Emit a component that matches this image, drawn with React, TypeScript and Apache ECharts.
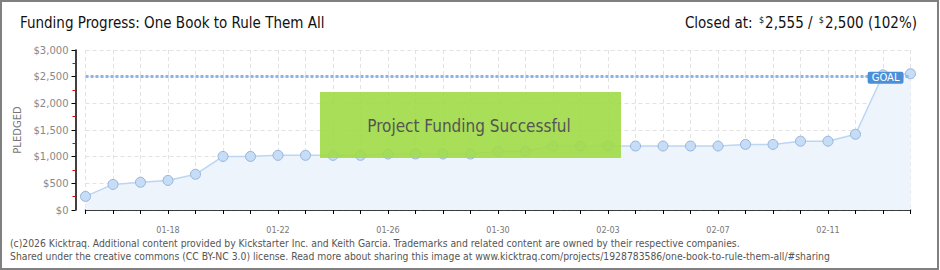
import React, { useEffect, useRef } from "react";
import * as echarts from "echarts";

const dates = [
  "01-15", "01-16", "01-17", "01-18", "01-19", "01-20", "01-21", "01-22",
  "01-23", "01-24", "01-25", "01-26", "01-27", "01-28", "01-29", "01-30",
  "01-31", "02-01", "02-02", "02-03", "02-04", "02-05", "02-06", "02-07",
  "02-08", "02-09", "02-10", "02-11", "02-12", "02-13", "02-14",
];
const pledged = [
  255, 480, 520, 555, 670, 1005, 1005, 1025, 1025, 1025, 1025, 1050, 1050,
  1050, 1050, 1100, 1100, 1200, 1200, 1200, 1200, 1200, 1200, 1200, 1230,
  1230, 1290, 1290, 1420, 2535, 2555,
];
const goal = 2500;
const yTicks = { min: 0, max: 3000, interval: 500 };
const titleText = "Funding Progress: One Book to Rule Them All";
const closedText = { pledged: "2,555", goal: "2,500", pct: "102%" };
const footerLines = [
  "(c)2026 Kicktraq. Additional content provided by Kickstarter Inc. and Keith Garcia. Trademarks and related content are owned by their respective companies.",
  "Shared under the creative commons (CC BY-NC 3.0) license. Read more about sharing this image at www.kicktraq.com/projects/1928783586/one-book-to-rule-them-all/#sharing",
];
const bannerText = "Project Funding Successful";

const COND = "'DejaVu Sans Condensed', 'DejaVu Sans', sans-serif";
const SANS = "'DejaVu Sans', sans-serif";

export default function App() {
  const ref = useRef<HTMLDivElement>(null);
  useEffect(() => {
    if (!ref.current) return;
    const chart = echarts.init(ref.current, undefined, { renderer: "svg" });
    chart.setOption({
      animation: false,
      backgroundColor: "#ffffff",
      grid: { left: 85.5, right: 29.5, top: 50, bottom: 60 },
      xAxis: {
        type: "category",
        data: dates,
        boundaryGap: false,
        offset: 10,
        axisLine: { show: true, lineStyle: { color: "#000", width: 1.5 } },
        axisTick: { show: true, interval: 0, length: 4, lineStyle: { color: "#000" } },
        axisLabel: {
          interval: (i: number) => i >= 3 && (i - 3) % 4 === 0,
          color: "#777",
          fontSize: 9,
          fontFamily: COND,
          margin: 5,
        },
        splitLine: {
          show: true,
          interval: 0,
          lineStyle: { color: "#e2e2e2", type: [4, 3] },
        },
      },
      yAxis: {
        type: "value",
        min: yTicks.min,
        max: yTicks.max,
        interval: yTicks.interval,
        offset: 10,
        name: "PLEDGED",
        nameLocation: "middle",
        nameRotate: 90,
        nameGap: 48,
        nameTextStyle: { color: "#777", fontSize: 10, fontFamily: SANS },
        axisLine: { show: true, lineStyle: { color: "#000", width: 1.5 } },
        axisTick: { show: true, length: 4, lineStyle: { color: "#000" } },
        minorTick: { show: true, splitNumber: 2, length: 3, lineStyle: { color: "#e00000" } },
        minorSplitLine: { show: false },
        axisLabel: {
          color: "#888",
          fontSize: 10,
          fontFamily: SANS,
          margin: 7,
          formatter: (v: number) => "$" + v.toLocaleString("en-US"),
        },
        splitLine: { show: true, lineStyle: { color: "#e2e2e2", type: [4, 3] } },
      },
      series: [
        {
          type: "line",
          data: pledged,
          symbol: "circle",
          symbolSize: 10,
          itemStyle: { color: "#c6ddf7", borderColor: "#98b4d9", borderWidth: 1 },
          lineStyle: { color: "#bad6f3", width: 1.5 },
          areaStyle: { color: "#edf4fc", opacity: 1 },
          markLine: {
            silent: true,
            symbol: "none",
            data: [{ yAxis: goal, name: "GOAL" }],
            lineStyle: { color: "#8cb6e6", type: [3, 2], width: 3 },
            label: {
              show: true,
              formatter: "GOAL",
              position: "insideEndTop",
              distance: 0,
              offset: [-7, 7],
              backgroundColor: "#4a8fd8",
              color: "#fff",
              fontSize: 10,
              fontFamily: SANS,
              padding: [1, 4, 1, 4],
              borderRadius: 2,
            },
          },
        },
      ],
      graphic: [
        {
          type: "rect",
          shape: { x: 1, y: 1, width: 937, height: 268 },
          style: { fill: "none", stroke: "#808080", lineWidth: 2 },
          z: 100,
        },
        {
          type: "text",
          x: 20,
          y: 23,
          style: {
            text: titleText,
            fontSize: 15,
            fontFamily: COND,
            fill: "#111",
            verticalAlign: "middle",
          },
        },
        {
          type: "text",
          x: 917,
          y: 23,
          style: {
            text: `{a|Closed at: }{s|$}{a|${closedText.pledged} / }{s|$}{a|${closedText.goal} (${closedText.pct})}`,
            align: "right",
            verticalAlign: "middle",
            rich: {
              a: { fontSize: 15, fontFamily: COND, fill: "#111" },
              s: { fontSize: 9, fontFamily: COND, fill: "#111", verticalAlign: "top", padding: [0, 1, 6, 2] },
            },
          },
        },
        {
          type: "rect",
          shape: { x: 320, y: 92, width: 301, height: 66 },
          style: { fill: "rgba(160,218,70,0.9)" },
          z: 50,
        },
        {
          type: "text",
          x: 469,
          y: 126,
          z: 51,
          style: {
            text: bannerText,
            fontSize: 17,
            fontFamily: COND,
            fill: "#555",
            align: "center",
            verticalAlign: "middle",
            textShadowColor: "#fff",
            textShadowOffsetX: 1,
            textShadowOffsetY: 1,
            textShadowBlur: 0,
          },
        },
        {
          type: "text",
          x: 10,
          y: 243,
          style: {
            text: footerLines[0],
            fontSize: 10.3,
            fontFamily: COND,
            fill: "#555",
            verticalAlign: "middle",
          },
        },
        {
          type: "text",
          x: 10,
          y: 256,
          style: {
            text: footerLines[1],
            fontSize: 10.3,
            fontFamily: COND,
            fill: "#555",
            verticalAlign: "middle",
          },
        },
      ],
    });
    return () => chart.dispose();
  }, []);
  return (
    <div
      ref={ref}
      style={{ position: "fixed", left: 0, top: 0, width: 940, height: 270, background: "#fff" }}
    />
  );
}
